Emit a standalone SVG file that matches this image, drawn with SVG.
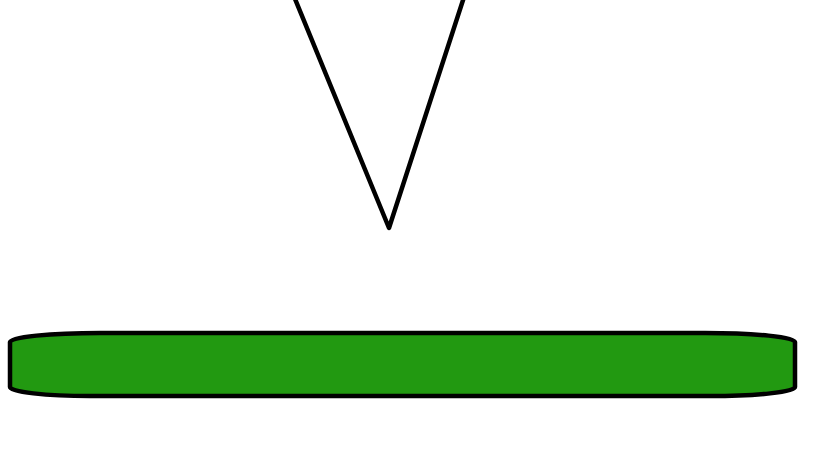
<svg xmlns="http://www.w3.org/2000/svg" width="819" height="460" viewBox="0 0 819 460">
<style>
.ln{fill:none;stroke:#000;stroke-width:4.5;stroke-linejoin:round;stroke-linecap:round}
.disk{fill:#229911;stroke:#000;stroke-width:4.5}
</style>
<rect width="819" height="460" fill="#fff"/>
<g id="cone">
<polyline class="ln" points="293,-6 389,228 465,-6"/>
</g>
<g id="disk">
<path class="disk" d="M10,342 A90,9 0 0 1 100,333 L705,333 A90,9 0 0 1 795,342 L795,387 A85,9 0 0 1 710,396 L90,396 A80,9 0 0 1 10,387 Z"/>
</g>
</svg>
